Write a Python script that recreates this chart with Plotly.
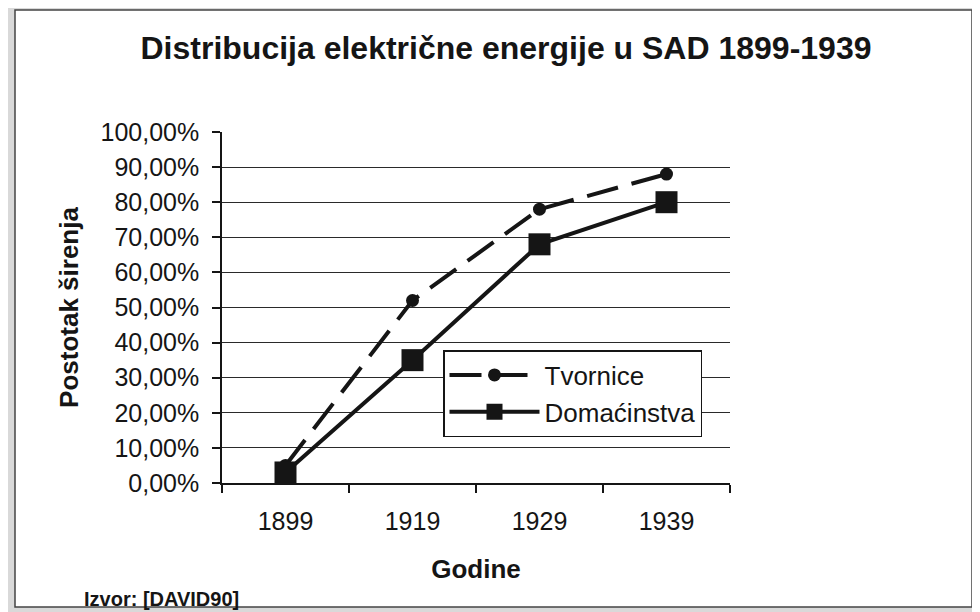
import plotly.graph_objects as go

years = ["1899", "1919", "1929", "1939"]
tvornice = [0.05, 0.52, 0.78, 0.88]
domacinstva = [0.03, 0.35, 0.68, 0.80]

FONT = "Liberation Sans, Arial, sans-serif"
INK = "#151515"

# the page body has an 8px margin; design in window pixels and shift
OFF = 8
W, H = 980 - OFF, 612 - OFF
L, R, T, B = 222 - OFF, 730 - OFF, 132 - OFF, 483 - OFF

def px(x):
    return (x - OFF - L) / (R - L)

def py(y):
    return (B - (y - OFF)) / (B - T)

fig = go.Figure()
fig.add_trace(go.Scatter(
    x=years, y=tvornice, name="Tvornice", mode="lines+markers",
    line=dict(color=INK, width=4, dash="32px,14px"),
    marker=dict(symbol="circle", size=13, color=INK),
))
fig.add_trace(go.Scatter(
    x=years, y=domacinstva, name="Domaćinstva", mode="lines+markers",
    line=dict(color=INK, width=4),
    marker=dict(symbol="square", size=22, color=INK),
))

fig.update_layout(
    width=W, height=H,
    margin=dict(l=L, r=W - R, t=T, b=H - B),
    paper_bgcolor="#d9d9d9",
    plot_bgcolor="rgba(0,0,0,0)",
    separators=",.",
    font=dict(family=FONT, color=INK, size=25),
    title=dict(
        text="<b>Distribucija električne energije u SAD 1899-1939</b>",
        font=dict(family=FONT, size=32, color=INK),
        x=(506 - OFF) / W, xanchor="center", xref="container",
        y=1 - (48 - OFF) / H, yanchor="middle", yref="container",
    ),
    showlegend=True,
    legend=dict(
        x=px(443), y=py(350), xanchor="left", yanchor="top",
        bgcolor="white", bordercolor=INK, borderwidth=1.5,
        font=dict(family=FONT, size=26, color=INK),
        itemwidth=90, tracegroupgap=0,
    ),
    shapes=[
        dict(type="rect", xref="paper", yref="paper",
             x0=px(15), x1=px(972), y0=py(607), y1=py(10),
             fillcolor="white", line=dict(color="#444", width=1.5),
             layer="below"),
    ],
    annotations=[
        dict(text="<b>Izvor: [DAVID90]</b>", xref="paper", yref="paper",
             x=px(82), y=py(599), xanchor="left", yanchor="middle",
             showarrow=False, font=dict(family=FONT, size=20, color=INK)),
    ],
)

fig.update_xaxes(
    type="category", range=[-0.5, 3.5],
    showgrid=False, showline=True, linecolor=INK, linewidth=1.5,
    ticks="outside", tickson="boundaries", ticklen=8, tickcolor=INK, tickwidth=1.5,
    tickfont=dict(family=FONT, size=25, color=INK),
    ticklabelstandoff=15,
    title=dict(text="<b>Godine</b>", font=dict(family=FONT, size=26, color=INK), standoff=26),
)
fig.update_yaxes(
    range=[0, 1], dtick=0.1, tickformat=".2%",
    showgrid=True, gridcolor="#2a2a2a", gridwidth=1.2,
    showline=True, linecolor=INK, linewidth=1.5,
    ticks="outside", ticklen=8, tickcolor=INK, tickwidth=1.5,
    tickfont=dict(family=FONT, size=25, color=INK),
    ticklabelstandoff=8,
    zeroline=False,
    title=dict(text="<b>Postotak širenja</b>", font=dict(family=FONT, size=26, color=INK), standoff=14),
)

fig.write_html("out.html")
